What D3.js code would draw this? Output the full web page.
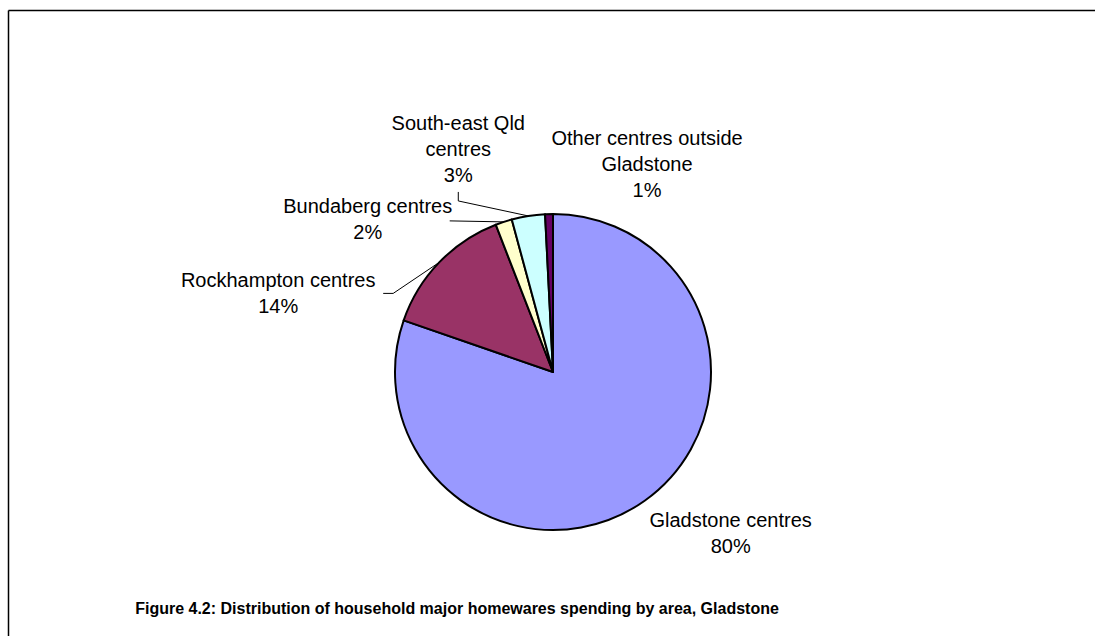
<!DOCTYPE html>
<html lang="en">
    <head>
        <meta charset="utf-8">
        <title>Gladstone homewares spending</title>
        <script type="text/javascript" src="https://cdn.jsdelivr.net/npm/d3@7"></script>
        <style>
            body { margin: 0; background: #fff; }
            text { font-family: Arial, "Liberation Sans", sans-serif; }
        </style>
    </head>
    <body>
        <script type="text/javascript">
        // data (clockwise from 12 o'clock)
        var areas = ["Gladstone centres", "Rockhampton centres", "Bundaberg centres", "South-east Qld centres", "Other centres outside Gladstone"];
        var shares = [80.3, 13.8, 1.7, 3.4, 0.8];
        var labelLines = [
            ["Gladstone centres"],
            ["Rockhampton centres"],
            ["Bundaberg centres"],
            ["South-east Qld", "centres"],
            ["Other centres outside", "Gladstone"]
        ];
        var colours = ["#9999FF", "#993366", "#FFFFCC", "#CCFFFF", "#660066"];
        var title = "Figure 4.2: Distribution of household major homewares spending by area, Gladstone";

        var w = 1095;
        var h = 636;
        var cx = 553, cy = 372, r = 158;
        var fontSize = 20, lineH = 26;

        // label anchor (centre x, first baseline) as an offset from the slice's rim mid-point
        var labelPos = [
            {dx: 86, dy: 26},
            {dx: -161, dy: 25},
            {dx: -136, dy: -9},
            {dx: -70, dy: -86},
            {dx: 98, dy: -69}
        ];
        // leader line points relative to the label anchor; the rim point is added last
        var leaders = [
            null,
            [[105, 6], [115, 6]],
            [[82, 8]],
            [[0, 62], [0, 71]],
            null
        ];

        var dataset = areas.map(function(a, i) {
            return {area: a, share: shares[i], lines: labelLines[i], colour: colours[i]};
        });

        var svg = d3.select("body")
                    .append("svg")
                    .attr("width", w)
                    .attr("height", h);

        // frame: top and left edges only
        svg.append("line")
            .attr("x1", 8.5).attr("y1", 10.5)
            .attr("x2", w).attr("y2", 10.5)
            .attr("stroke", "#000").attr("stroke-width", 1.5);
        svg.append("line")
            .attr("x1", 8.5).attr("y1", 10.5)
            .attr("x2", 8.5).attr("y2", h)
            .attr("stroke", "#000").attr("stroke-width", 1.5);

        var pie = d3.pie()
                    .sort(null)
                    .value(function(d) { return d.share; });

        var arc = d3.arc().innerRadius(0).outerRadius(r);
        var arcs = pie(dataset);

        var g = svg.append("g").attr("transform", "translate(" + cx + "," + cy + ")");

        g.selectAll("path")
            .data(arcs)
            .enter()
            .append("path")
            .attr("d", arc)
            .attr("fill", function(d) { return d.data.colour; })
            .attr("stroke", "#000")
            .attr("stroke-width", 2)
            .attr("stroke-linejoin", "round");

        function rimPoint(d) {
            var a = (d.startAngle + d.endAngle) / 2;
            return [r * Math.sin(a), -r * Math.cos(a)];
        }

        arcs.forEach(function(d, i) {
            var p = rimPoint(d);
            var lx = p[0] + labelPos[i].dx;
            var ly = p[1] + labelPos[i].dy;
            var pct = Math.round(d.data.share) + "%";
            var lines = d.data.lines.concat([pct]);

            if (leaders[i]) {
                var pts = leaders[i].map(function(q) { return [lx + q[0], ly + q[1]]; });
                pts.push(p);
                g.append("path")
                    .attr("d", d3.line()(pts))
                    .attr("fill", "none")
                    .attr("stroke", "#000")
                    .attr("stroke-width", 1);
            }

            var t = g.append("text")
                .attr("text-anchor", "middle")
                .attr("font-size", fontSize + "px")
                .attr("fill", "#000");
            lines.forEach(function(s, k) {
                t.append("tspan")
                    .attr("x", lx)
                    .attr("y", ly + k * lineH)
                    .text(s);
            });
        });

        svg.append("text")
            .attr("x", 457)
            .attr("y", 614)
            .attr("text-anchor", "middle")
            .attr("font-size", "16px")
            .attr("font-weight", "bold")
            .attr("fill", "#000")
            .text(title);
        </script>
    </body>
</html>
